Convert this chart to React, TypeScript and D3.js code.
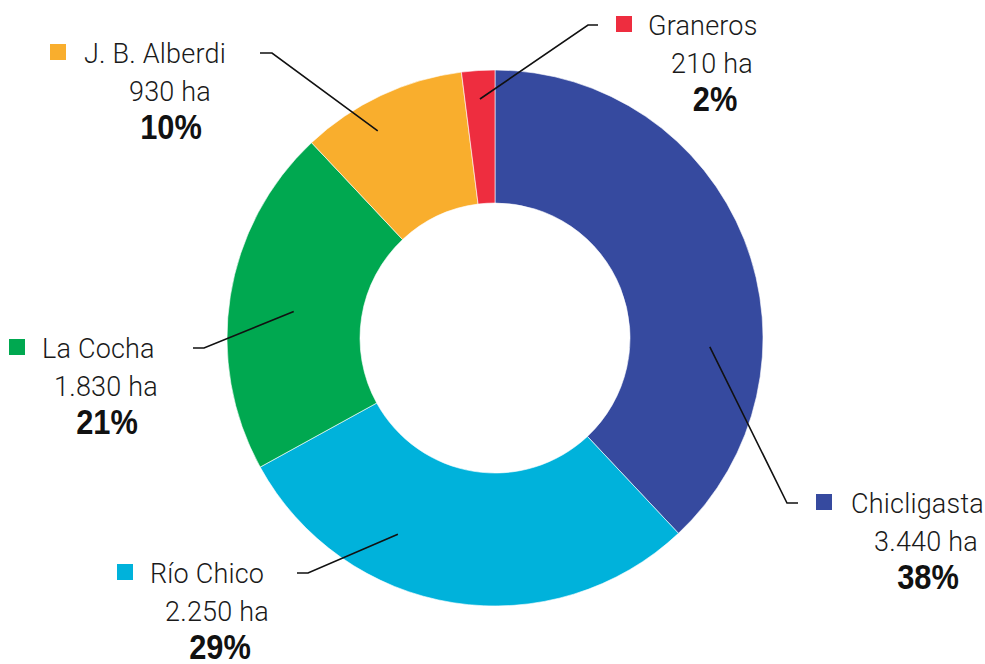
import React from "react";
import * as d3 from "d3";

const categories = ["Chicligasta", "Río Chico", "La Cocha", "J. B. Alberdi", "Graneros"];
const hectares = ["3.440", "2.250", "1.830", "930", "210"];
const percents = [38, 29, 21, 10, 2];
const colors = ["#364a9f", "#00b2db", "#00a850", "#f9ae2d", "#ee2d3f"];

// annotation layout (label block anchor + leader geometry)
const labelLayout = [
  { sqX: 816, baseY: 513, textX: 851, c2: 926, c3: 928, elbowX: 787, endX: 798, t: 0.675, r: 215 },
  { sqX: 117, baseY: 583, textX: 150, c2: 217, c3: 220, elbowX: 308, endX: 297, t: 0.666, r: 219 },
  { sqX: 9, baseY: 358, textX: 42, c2: 106, c3: 107, elbowX: 204, endX: 193, t: 0.48, r: 203 },
  { sqX: 50, baseY: 63, textX: 84, c2: 170, c3: 171, elbowX: 272, endX: 260, t: 0.38, r: 238 },
  { sqX: 616, baseY: 35, textX: 648, c2: 712, c3: 715, elbowX: 588, endX: 598, t: 0.5, r: 239.5 },
];

const W = 985, H = 664;
const cx = 495, cy = 338;
const outerR = 268, innerR = 135;

export default function App() {
  const pie = d3.pie<number>().value((d) => d).sort(null);
  const arcs = pie(percents);
  const arcGen = d3.arc<d3.PieArcDatum<number>>().innerRadius(innerR).outerRadius(outerR);
  const lightFont = "Roboto, 'Liberation Sans', sans-serif";
  const boldFont = "'Liberation Sans', Arial, sans-serif";
  return (
    <svg width={W} height={H} style={{ position: "absolute", left: 0, top: 0 }}>
      <rect width={W} height={H} fill="#fff" />
      <g transform={`translate(${cx},${cy})`}>
        {arcs.map((a, i) => (
          <path key={i} d={arcGen(a) || ""} fill={colors[i]} stroke="#fff" strokeWidth={0.6} />
        ))}
      </g>
      {arcs.map((a, i) => {
        const L = labelLayout[i];
        const ang = a.startAngle + (a.endAngle - a.startAngle) * L.t;
        const px = cx + L.r * Math.sin(ang);
        const py = cy - L.r * Math.cos(ang);
        const ly = L.baseY - 10;
        return (
          <g key={i}>
            <polyline
              points={`${L.endX},${ly} ${L.elbowX},${ly} ${px},${py}`}
              fill="none"
              stroke="#111"
              strokeWidth={1.6}
            />
            <rect x={L.sqX} y={L.baseY - 19} width={16} height={16} fill={colors[i]} />
            <text x={L.textX} y={L.baseY} fontFamily={lightFont} fontWeight={300} fontSize={27} letterSpacing={0.2} fill="#1a1a1a">
              {categories[i]}
            </text>
            <text x={L.c2} y={L.baseY + 38} textAnchor="middle" fontFamily={lightFont} fontWeight={300} fontSize={27} letterSpacing={0.2} fill="#1a1a1a">
              {hectares[i]} ha
            </text>
            <text
              transform={`translate(${L.c3},${L.baseY + 76}) scale(0.88,1)`}
              textAnchor="middle"
              fontFamily={boldFont}
              fontWeight={700}
              fontSize={35}
              fill="#111"
            >
              {percents[i]}%
            </text>
          </g>
        );
      })}
    </svg>
  );
}
